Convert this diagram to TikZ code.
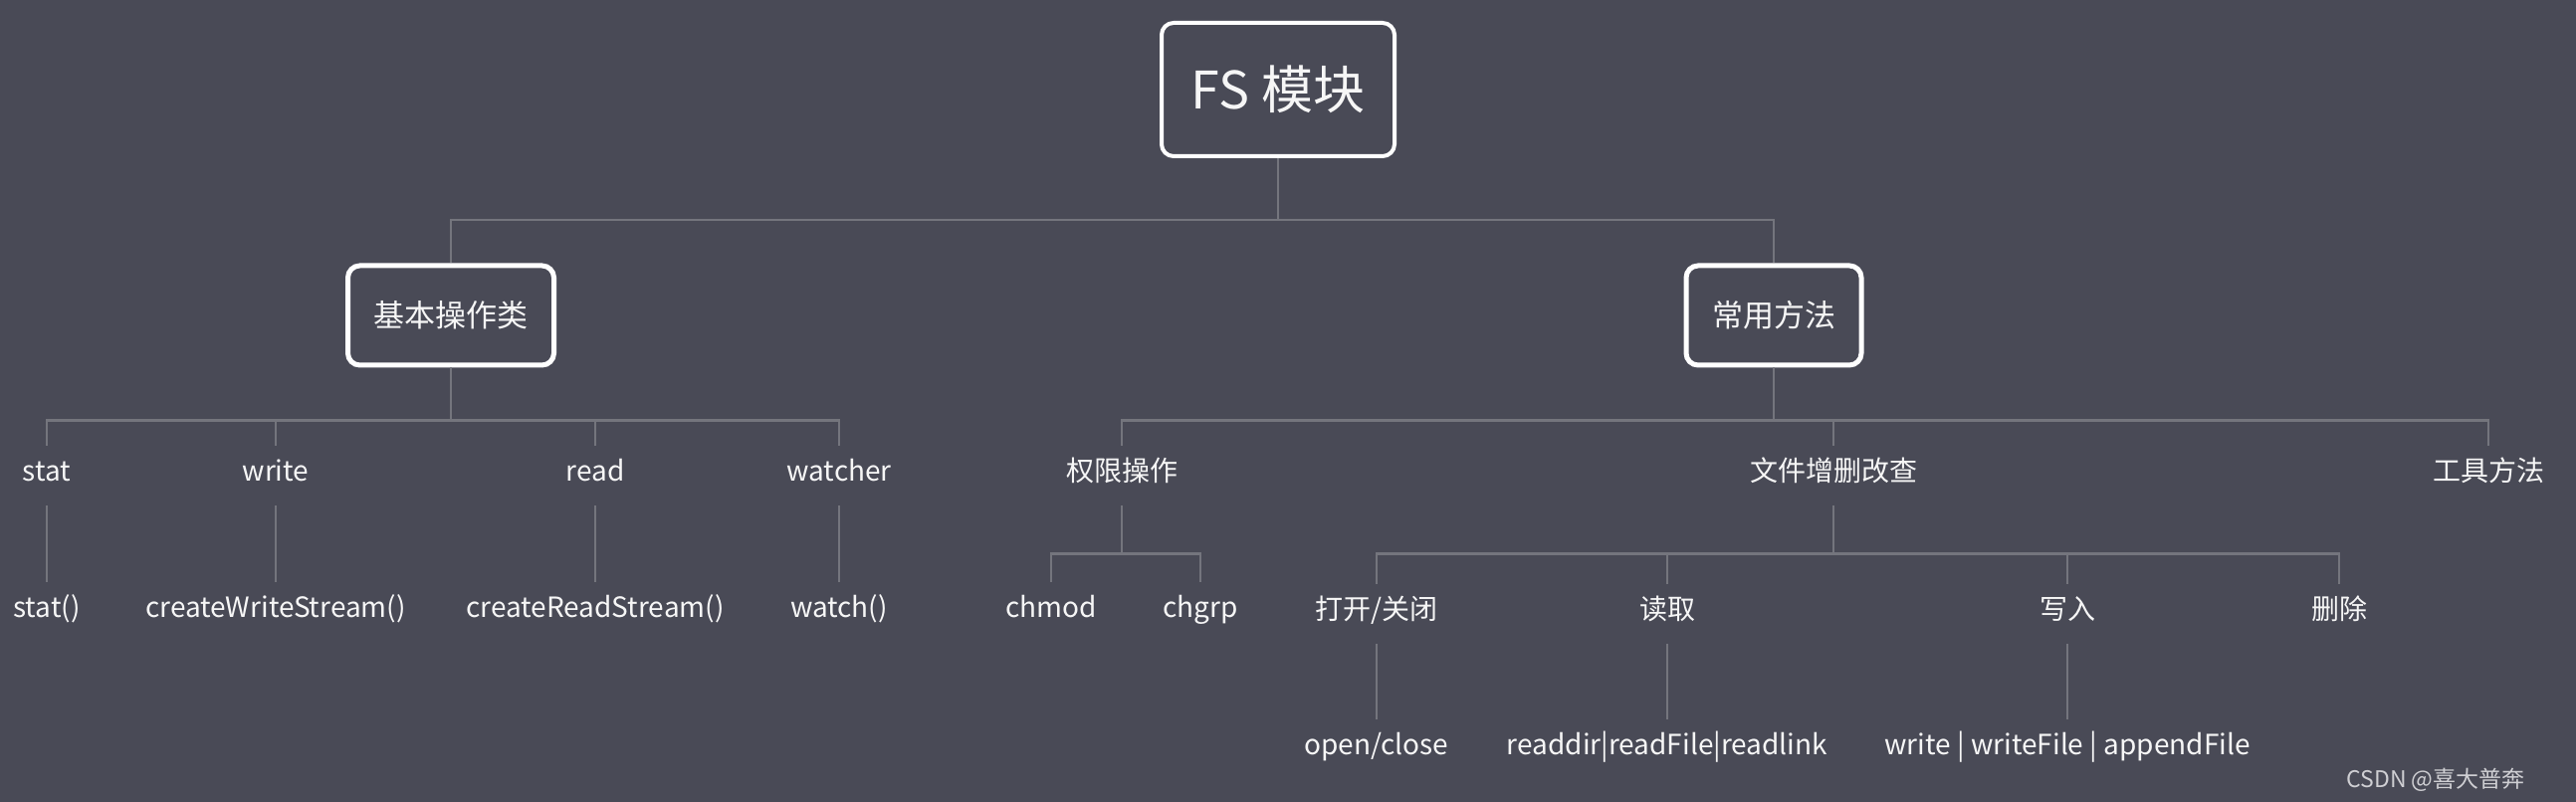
\documentclass[tikz,border=0pt]{standalone}
\usepackage{fontspec}
\setmainfont{Noto Sans CJK SC}
\definecolor{bgcol}{HTML}{494A56}
\definecolor{linecol}{HTML}{74757D}
\definecolor{txtcol}{HTML}{F6F6F6}
\definecolor{markcol}{HTML}{CFCFD3}

\begin{document}
\begin{tikzpicture}[x=0.5pt,y=-0.5pt,
  rootbox/.style={draw=white,line width=2pt,rounded corners=6pt,text=txtcol,font=\fontsize{26}{30}\selectfont,minimum width=117pt,minimum height=67pt},
  catbox/.style={draw=white,line width=2.5pt,rounded corners=6pt,text=txtcol,font=\fontsize{15.5}{18}\selectfont,inner xsep=13pt,minimum height=50pt},
  leaf/.style={text=txtcol,font=\fontsize{14}{16}\selectfont,text height=0.75em,text depth=0.2em,minimum height=30pt,inner sep=0pt},
  link/.style={draw=linecol,line width=1.3pt}]
\fill[bgcol] (0,0) rectangle (2588,806);

\node[rootbox] (fs) at (1284,90) {FS 模块};
\node[catbox] (basic) at (453,317) {基本操作类};
\node[catbox] (common) at (1782,317) {常用方法};

% basic operations
\node[leaf] (stat) at (47,478) {stat};
\node[leaf] (write) at (277,478) {write};
\node[leaf] (read) at (598,478) {read};
\node[leaf] (watcher) at (843,478) {watcher};
\node[leaf] (statfn) at (47,615) {stat()};
\node[leaf] (wstream) at (277,615) {createWriteStream()};
\node[leaf] (rstream) at (598,615) {createReadStream()};
\node[leaf] (watchfn) at (843,615) {watch()};

% common methods
\node[leaf] (perm) at (1127,478) {权限操作};
\node[leaf] (crud) at (1842,478) {文件增删改查};
\node[leaf] (util) at (2500,478) {工具方法};
\node[leaf] (chmod) at (1056,615) {chmod};
\node[leaf] (chgrp) at (1206,615) {chgrp};
\node[leaf] (openclose) at (1383,617) {打开/关闭};
\node[leaf] (readop) at (1675,617) {读取};
\node[leaf] (writeop) at (2077,617) {写入};
\node[leaf] (delop) at (2350,617) {删除};
\node[leaf] (openfn) at (1383,753) {open/close};
\node[leaf] (readfn) at (1675,753) {readdir|readFile|readlink};
\node[leaf] (writefn) at (2077,753) {write | writeFile | appendFile};

\node[anchor=west,text=markcol,font=\fontsize{11.5}{13}\selectfont,inner sep=0pt] (mark) at (2357,784) {CSDN @喜大普奔};

\foreach \c in {basic,common}
  \draw[link] (fs.south) -- ++(0,62) -| (\c.north);
\foreach \c in {stat,write,read,watcher}
  \draw[link] (basic.south) -- ++(0,53) -| (\c.north);
\foreach \c in {perm,crud,util}
  \draw[link] (common.south) -- ++(0,53) -| (\c.north);
\foreach \c in {chmod,chgrp}
  \draw[link] (perm.south) -- ++(0,48) -| (\c.north);
\foreach \c in {openclose,readop,writeop,delop}
  \draw[link] (crud.south) -- ++(0,48) -| (\c.north);
\draw[link] (stat) -- (statfn);
\draw[link] (write) -- (wstream);
\draw[link] (read) -- (rstream);
\draw[link] (watcher) -- (watchfn);
\draw[link] (openclose) -- (openfn);
\draw[link] (readop) -- (readfn);
\draw[link] (writeop) -- (writefn);
\end{tikzpicture}
\end{document}
